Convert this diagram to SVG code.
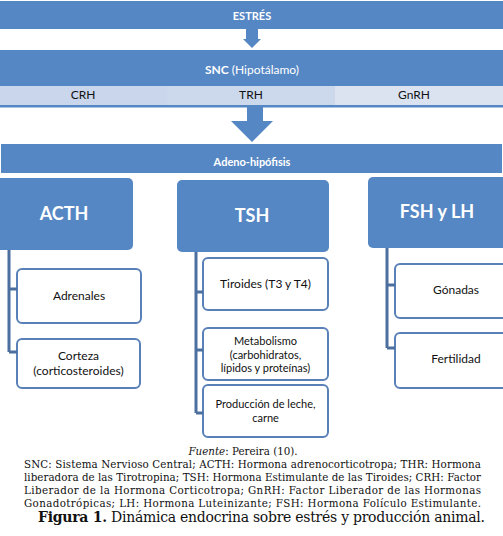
<svg xmlns="http://www.w3.org/2000/svg" width="503" height="536" viewBox="0 0 503 536">
<style>
.bar{fill:#5687c5}
.hbox{fill:#5687c5}
.box{fill:#fff;stroke:#5a80b8;stroke-width:2}
.ln{stroke:#4d6f9f;stroke-width:3;fill:none}
.w{font-family:Lato,"Open Sans",sans-serif;fill:#fff;text-anchor:middle}
.d{font-family:Lato,"Open Sans",sans-serif;fill:#111;text-anchor:middle;font-size:12px}
.m{font-size:11px}
.cap{font-family:"DejaVu Serif","Liberation Serif",serif;fill:#111;font-size:10.3px}
.fig{font-family:"DejaVu Serif","Liberation Serif",serif;fill:#111;font-size:14px}
</style>
<rect width="503" height="536" fill="#fff"/>
<g id="estres">
<rect class="bar" x="0" y="1" width="503" height="28"/>
<text class="w" x="252" y="20" font-size="11" font-weight="bold">ESTRÉS</text>
</g>
<g id="snc">
<rect class="bar" x="0" y="50" width="503" height="36"/>
<text class="w" x="252" y="74" font-size="12"><tspan font-weight="bold">SNC</tspan> (Hipotálamo)</text>
<rect x="0" y="86" width="167" height="19" fill="#cad6eb"/>
<rect x="167" y="86" width="168" height="19" fill="#ccd8ec"/>
<rect x="335" y="86" width="168" height="19" fill="#dbe3f1"/>
<rect x="0" y="105" width="503" height="2.5" fill="#5687c5"/>
<text class="d" x="83" y="99">CRH</text>
<text class="d" x="251" y="99">TRH</text>
<text class="d" x="414" y="99">GnRH</text>
</g>
<g id="adeno">
<rect class="bar" x="1" y="144" width="501" height="29"/>
<text class="w" x="252" y="166" font-size="11" font-weight="bold">Adeno-hipófisis</text>
</g>
<g id="acth">
<rect class="hbox" x="-6" y="178" width="139" height="72" rx="5"/>
<text class="w" x="64" y="220" font-size="18" font-weight="bold">ACTH</text>
</g>
<g id="tsh">
<rect class="hbox" x="177" y="180" width="152" height="72" rx="5"/>
<text class="w" x="252" y="222" font-size="18" font-weight="bold">TSH</text>
</g>
<g id="fsh">
<rect class="hbox" x="368" y="177" width="142" height="71" rx="5"/>
<text class="w" x="437" y="218" font-size="18" font-weight="bold">FSH y LH</text>
</g>
<g id="adrenales">
<rect class="box" x="17" y="269" width="124" height="54" rx="5"/>
<text class="d" x="79" y="300">Adrenales</text>
</g>
<g id="corteza">
<rect class="box" x="17" y="339" width="123" height="49" rx="5"/>
<text class="d" x="78.5" y="360">Corteza</text>
<text class="d" x="78.5" y="374.5">(corticosteroides)</text>
</g>
<g id="tiroides">
<rect class="box" x="203" y="258" width="125" height="52" rx="5"/>
<text class="d" x="265.5" y="288">Tiroides (T3 y T4)</text>
</g>
<g id="metabolismo">
<rect class="box" x="203" y="328" width="125" height="52" rx="5"/>
<text class="d m" x="265.5" y="345">Metabolismo</text>
<text class="d m" x="265.5" y="358.5">(carbohidratos,</text>
<text class="d m" x="265.5" y="372">lípidos y proteínas)</text>
</g>
<g id="produccion">
<rect class="box" x="203" y="385" width="125" height="52" rx="5"/>
<text class="d m" x="265.5" y="408">Producción de leche,</text>
<text class="d m" x="265.5" y="421.5">carne</text>
</g>
<g id="gonadas">
<rect class="box" x="395" y="264" width="115" height="54" rx="5"/>
<text class="d" x="456" y="294">Gónadas</text>
</g>
<g id="fertilidad">
<rect class="box" x="395" y="333" width="115" height="55" rx="5"/>
<text class="d" x="456" y="363">Fertilidad</text>
</g>
<g id="connectors">
<polygon fill="#5687c5" points="246,29 258,29 258,39 261,39 252,48 243,39 246,39"/>
<polygon fill="#5687c5" points="247,107 263,107 263,121 273,121 252,142 231,121 247,121"/>
<path class="ln" d="M9,250 V352 M9,289 H17 M9,352 H17"/>
<path class="ln" d="M196,252 V413 M196,292 H203 M196,350 H203 M196,413 H203"/>
<path class="ln" d="M387,248 V348 M387,285 H395 M387,348 H395"/>
</g>
<g id="caption">
<text class="cap" x="243" y="455" text-anchor="middle"><tspan font-style="italic">Fuente</tspan>: Pereira (10).</text>
<text class="cap" x="24" y="468" textLength="457" lengthAdjust="spacing">SNC: Sistema Nervioso Central; ACTH: Hormona adrenocorticotropa; THR: Hormona</text>
<text class="cap" x="24" y="481" textLength="457" lengthAdjust="spacing">liberadora de las Tirotropina; TSH: Hormona Estimulante de las Tiroides; CRH: Factor</text>
<text class="cap" x="24" y="494" textLength="457" lengthAdjust="spacing">Liberador de la Hormona Corticotropa; GnRH: Factor Liberador de las Hormonas</text>
<text class="cap" x="24" y="507" textLength="457" lengthAdjust="spacing">Gonadotrópicas; LH: Hormona Luteinizante; FSH: Hormona Folículo Estimulante.</text>
<text class="fig" x="38" y="522" textLength="447" lengthAdjust="spacing"><tspan font-weight="bold">Figura 1.</tspan> Dinámica endocrina sobre estrés y producción animal.</text>
</g>
</svg>
